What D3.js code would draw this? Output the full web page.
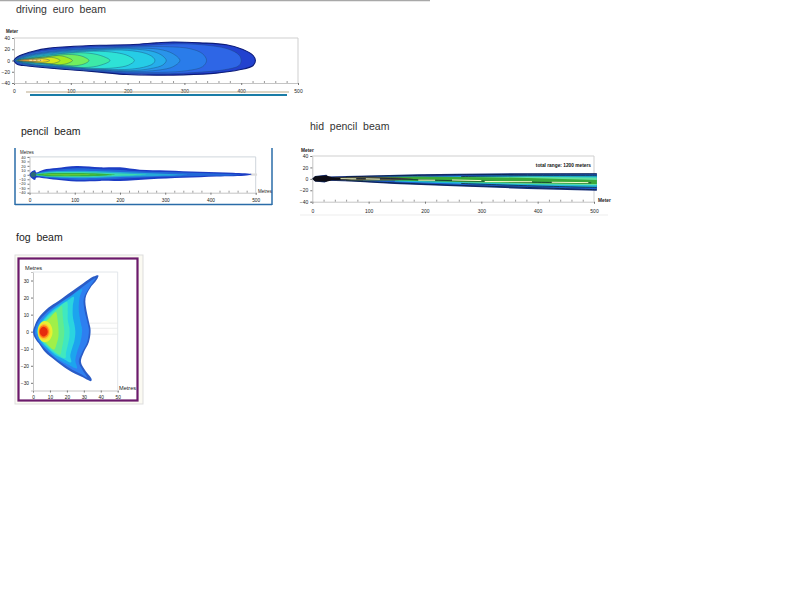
<!DOCTYPE html>
<html><head><meta charset="utf-8">
<script src="https://cdnjs.cloudflare.com/ajax/libs/d3/7.8.5/d3.min.js"></script>
<style>
html,body{margin:0;padding:0;background:#fff}
svg{display:block}
text{font-family:"Liberation Sans",Arial,sans-serif;white-space:pre}
</style></head><body>
<svg id="c" width="800" height="600"></svg>
<script>
const xTicks=[0,100,200,300,400,500];
const xMinor=[20,40,60,80,120,140,160,180,220,240,260,280,320,340,360,380,420,440,460,480];
const yTicksDriving=[40,20,0,-20,-40];
const yTicksPencil=[40,30,20,10,0,-10,-20,-30,-40];
const yTicksHid=[40,20,0,-20,-40];
const fogXTicks=[0,10,20,30,40,50];
const fogYTicks=[30,20,10,0,-10,-20,-30];

const drivingColors=["#2342cf","#2f66e6","#2a7cea","#2a94ea","#25aeea","#28cce6","#2fe2d6","#3eeaa8","#72ee5e","#a4ea22","#d6e81c","#f0d020","#e8a030"];
const drivingBands=[
[[0,0],[3.5,4.7],[10.5,8.9],[34,16.6],[63,22],[93,24.3],[151,27],[210,28.4],[251,31.4],[280,33],[327,31.4],[374,27.9],[403,19.6],[421,8.9],[425,0],[421,-8.9],[397,-16.6],[356,-22.5],[298,-25.5],[251,-26],[198,-24.9],[151,-20.7],[93,-16],[46,-11.9],[16.4,-8.9],[7.6,-7.7],[3,-4.7]],
[[1,0],[12,7.5],[40,15.5],[90,21],[150,24.5],[220,26],[280,29.5],[330,28],[375,21],[396,10],[400,0],[396,-9],[370,-16.5],[330,-20.5],[270,-23.5],[200,-22.5],[150,-19],[90,-14.5],[40,-10],[12,-6.5]],
[[2,0],[14,6.5],[40,13],[90,19],[150,22],[210,24],[270,24.5],[310,21],[332,12],[339,0],[332,-11],[305,-18],[260,-21],[200,-20.5],[150,-17.5],[90,-13],[40,-8.5],[14,-5]],
[[3,0],[15,5.5],[40,11.5],[90,17.5],[150,21],[210,22],[255,20],[280,12],[292,0],[280,-11],[255,-17],[210,-19.5],[150,-16.5],[90,-12],[40,-8],[15,-4.5]],
[[3,0],[16,5],[40,10.5],[90,16],[150,19.5],[205,20.5],[245,16],[262,8],[268,0],[262,-8],[240,-14.5],[205,-18],[150,-15.5],[90,-11],[40,-7.5],[16,-4]],
[[4,0],[18,4.5],[40,9],[90,14.5],[150,18],[200,18],[232,12.5],[245,5.5],[248,0],[245,-5.5],[228,-12],[195,-16],[150,-14.5],[90,-10.5],[40,-7],[18,-3.5]],
[[4,0],[20,4],[45,8],[90,13],[140,16.5],[180,14],[202,8],[212,0],[202,-8],[178,-13],[140,-14],[90,-10],[45,-6],[20,-3.5]],
[[5,0],[22,3.6],[50,7.5],[90,12.5],[125,13.5],[152,9],[169,0],[152,-8.5],[125,-12.5],[90,-9.5],[50,-5.5],[22,-3]],
[[5,0],[25,3.4],[55,6.5],[90,10.5],[112,9.5],[126,5],[132,0],[126,-5],[110,-9],[90,-8.5],[55,-5],[25,-2.8]],
[[6,0],[25,3],[55,6],[80,8.5],[96,4.5],[103,0],[96,-4.5],[80,-7.5],[55,-4.5],[25,-2.5]],
[[6,0],[28,2.6],[50,5],[70,5],[81,0],[70,-5],[50,-4.5],[28,-2.2]],
[[7,0],[30,2.4],[45,3.6],[56,2.6],[63,0],[56,-2.6],[45,-3.4],[30,-2]],
[[7,0],[20,1.6],[35,2],[48,0],[35,-1.8],[20,-1.4]]
];
const drivingCore=[[27,0.4],[50,0.4]];

const pencilColors=["#1c3cc4","#2468d8","#25a8d8","#3bd8b0","#38b040","#70d030","#2a6a78"];
const pencilBands=[
[[0,0],[5,7.5],[12.5,10],[14.7,5.3],[31,11.3],[60,15],[104,19.6],[156,16.6],[200,16.6],[244,11.3],[303,9.8],[377,6.8],[450,4.5],[491,1.5],[480,-1.5],[414,-3.8],[340,-6.8],[266,-9.8],[200,-13.6],[156,-13.6],[104,-15],[60,-11.3],[31,-7.5],[14.7,-6.8],[12.5,-11.3],[5,-7.5]],
[[8,0],[31,8],[60,11.5],[104,14.5],[156,12.5],[200,11],[244,8],[303,6],[377,4],[440,2],[470,0],[440,-2],[377,-2.5],[303,-4.5],[244,-6.5],[200,-9],[156,-10.5],[104,-11.5],[60,-8.5],[31,-5.5]],
[[10,0],[35,6.5],[70,8.5],[110,9],[160,8],[215,5.5],[270,3.5],[320,1.5],[350,0],[320,-1.5],[270,-3],[215,-4.5],[160,-6.5],[110,-7.5],[70,-6.5],[35,-4.5]],
[[12,0],[40,5],[80,6],[120,6],[180,4],[230,2],[260,0],[230,-1.5],[180,-3],[120,-5],[80,-4.8],[40,-3.8]],
[[12,0],[40,3.6],[80,4],[130,3.5],[170,2],[190,0],[170,-1.5],[130,-3],[80,-3.2],[40,-3]],
[[25,0.8],[60,1.4],[110,1.2],[150,0.4],[110,-1],[60,-1.2]],
[[2,0],[4,4],[11,6],[15,0],[11,-5],[4,-4]]
];
const pencilTip=[[488,3],[503,3],[503,-2],[488,-2]];

const hidColors=["#16307c","#1f5ccc","#22b8d8","#60e0a0","#3aa838","#54543c","#101018"];
const hidBands=[
[[0,0],[5,5],[25,7],[28,4],[60,5],[120,6.5],[187,8],[264,8.8],[382,10],[505,10],[505,-21],[382,-17.6],[264,-13.5],[146,-9],[70,-4.7],[28,-3.5],[22,-6.5],[5,-4.7]],
[[90,4],[187,6.5],[382,8.5],[505,8.5],[505,-19],[382,-15.5],[264,-11.5],[146,-7],[90,-4]],
[[150,2],[264,4.5],[382,6],[505,6],[505,-15],[382,-12],[264,-8.5],[146,-4.5]],
[[220,3],[382,3.5],[505,2.5],[505,-11],[382,-9],[264,-6]],
[[60,3],[187,4],[300,3],[382,1.5],[505,-2],[505,-9],[382,-7.5],[264,-5.5],[146,-3],[60,-2.5]],
[[40,3],[100,3.5],[150,2.5],[180,0],[150,-2.5],[100,-2.8],[40,-2.5]],
[[0,0],[5,4.5],[25,6],[35,3],[60,2],[72,0],[60,-2],[35,-2.5],[25,-5],[5,-4.5]]
];
const hidDarkLines=[
[[60,3.5],[187,6],[382,8],[505,8.5]],
[[60,-3],[146,-7],[264,-11.5],[382,-15],[505,-19]],
[[72,0.5],[120,1],[200,-2],[300,-4],[400,-6],[495,-7]],
[[264,4],[382,5.5],[505,5.5]],
[[264,-8],[382,-12],[505,-15]]
];
const hidLightLines=[
[[50,0.3],[78,0]],[[95,0],[120,-0.5]],[[188,-2.2],[218,-2.4]],[[248,-2],[300,-3]],[[306,-4.6],[390,-5]],[[425,-6],[490,-6.6]]
];

const fogColors=["#2a5cc6","#2f7ff0","#1ea4ee","#2cd4e0","#40e8c0","#60ec90","#a0f048","#e8f030","#ffc030","#ff7a18","#e62a10"];
const fogBands=[
[[0,0],[1,3.5],[3,7.8],[9,14],[15,18],[22.8,23.5],[29.7,28.4],[35.6,32.3],[38.6,33],[37.6,30.4],[33.7,25.5],[31,19.6],[31.7,11.8],[33,6],[34,1],[33,-6],[30,-12],[28.3,-17.6],[30.7,-22.5],[34.6,-27.8],[34.3,-29],[28.7,-26.5],[20.9,-22.5],[13,-16.7],[7,-11.8],[3.5,-7],[1.2,-3.9]],
[[1,0],[2,3.5],[4,7],[10,12.8],[16,17],[23,21.5],[29,26],[35,30.5],[37,31.5],[33,25.5],[30,19.5],[30.5,12],[32,6],[33,1],[32,-6],[29,-12],[27,-17.5],[29,-22],[32,-27],[28.5,-25],[21,-21],[13,-15.5],[7.5,-10.5],[4,-6.5],[2,-3.5]],
[[2,0],[3,3.5],[5,6.5],[10,11.8],[16,16.5],[22,20.5],[29,25],[27.5,20],[27,13],[28,6],[29,1],[28,-6],[26,-12],[25,-17],[26,-21.5],[20,-19],[13,-14.8],[8,-10],[4.5,-6.3],[3,-3]],
[[2.5,0],[3.5,3.5],[5.5,6],[10,11],[16,15.5],[20,18],[24,20.5],[23.5,15],[23.5,9],[24.5,4],[25,0],[24.5,-5],[23,-10],[22,-14],[22.5,-18],[18,-16],[13,-13.5],[8.5,-9.5],[5,-5.8],[3.5,-3]],
[[3,0],[4,3.5],[6,5.8],[10,10],[15,14],[20,17.5],[20.5,12],[20.5,7],[21.5,2],[21.5,-3],[20.5,-8],[19.5,-12],[19,-15.5],[13,-12.5],[8.5,-8.8],[5.5,-5.5],[4,-3]],
[[3.5,0],[4.5,3.5],[6.5,5.5],[10,9],[14,12.5],[17,15],[17.5,10],[18,5],[18.5,0],[18,-5],[17,-10],[16,-13.5],[12,-11],[8.5,-8],[5.5,-5],[4.5,-3]],
[[4,0],[5,3.5],[7,5.5],[10,8],[13.5,11.5],[14.5,7],[15,2],[15,-3],[14,-7],[12.5,-10.5],[10,-9],[8,-7],[5.5,-4.5]],
[[2.8,0],[3.8,4],[6.5,6.2],[9.5,5.2],[11.3,2],[11.3,-2],[9.5,-5.2],[6.5,-6.2],[3.8,-4]],
[[3.2,0],[4.1,3.2],[6.4,4.6],[8.8,3.4],[10.2,0],[8.8,-3.4],[6.4,-4.6],[4.1,-3.2]],
[[3.5,0],[4.4,2.7],[6.3,3.7],[8.4,2.7],[9.4,0],[8.4,-2.7],[6.3,-3.7],[4.4,-2.7]],
[[4,0],[4.7,2],[6.2,2.9],[7.9,2],[8.7,0],[7.9,-2],[6.2,-2.9],[4.7,-2]]
];
const fogFaintY=[5,2,-1.5];

const svg=d3.select("#c");
const defs=svg.append("defs");
defs.append("filter").attr("id","soft").attr("x","-5%").attr("y","-20%").attr("width","110%").attr("height","140%")
  .append("feGaussianBlur").attr("stdDeviation",0.55);

const closed=(x,y)=>d3.line().x(d=>x(d[0])).y(d=>y(d[1])).curve(d3.curveCatmullRomClosed.alpha(0.5));
const open=(x,y)=>d3.line().x(d=>x(d[0])).y(d=>y(d[1])).curve(d3.curveCatmullRom.alpha(0.5));
const straight=(x,y)=>d3.line().x(d=>x(d[0])).y(d=>y(d[1])).curve(d3.curveLinearClosed);

function rule(x1,y1,x2,y2,c,w){svg.append("line").attr("x1",x1).attr("y1",y1).attr("x2",x2).attr("y2",y2).attr("stroke",c).attr("stroke-width",w);}
function label(t,x,y,size,opt={}){return svg.append("text").attr("x",x).attr("y",y).attr("font-size",size).attr("fill",opt.fill||"#222").attr("text-anchor",opt.anchor||"start").attr("font-weight",opt.weight||"normal").text(t);}

function frame(x,y,yTicks,xT,xMin,size,bottomY,frameColor,pad,ySize){
  const gx=svg.append("g").attr("transform",`translate(0,${bottomY})`)
    .call(d3.axisBottom(x).tickValues(xT).tickSize(2).tickPadding(pad));
  gx.select(".domain").attr("stroke","#c4c4c4").attr("stroke-width",1);
  gx.selectAll("line").attr("stroke","#777");
  gx.selectAll("text").attr("font-size",size).attr("fill","#222").attr("font-family",'"Liberation Sans",sans-serif');
  const gm=svg.append("g").attr("transform",`translate(0,${bottomY})`)
    .call(d3.axisBottom(x).tickValues(xMin).tickSize(-2).tickFormat(""));
  gm.select(".domain").remove(); gm.selectAll("line").attr("stroke","#999");
  const gy=svg.append("g").attr("transform",`translate(${x.range()[0]},0)`)
    .call(d3.axisLeft(y).tickValues(yTicks).tickSize(2).tickPadding(2));
  gy.select(".domain").attr("stroke","#c4c4c4");
  gy.selectAll("line").attr("stroke","#777");
  gy.selectAll("text").attr("font-size",ySize||size).attr("fill","#222").attr("font-family",'"Liberation Sans",sans-serif');
  const yr=y.range();
  rule(x.range()[0],yr[1],x.range()[1],yr[1],frameColor,1);
  rule(x.range()[1],yr[0],x.range()[1],yr[1],frameColor,1);
}

rule(0,0.5,430,0.5,"#a8a8a8",1.5);

label("driving  euro  beam",16,13,10.5,{fill:"#333"});
label("pencil  beam",21,135,10.5,{fill:"#222"});
label("hid  pencil  beam",310,130,10.5,{fill:"#333"});
label("fog  beam",16,241,10.5,{fill:"#222"});

{
  const x=d3.scaleLinear().domain([0,500]).range([14,298]);
  const y=d3.scaleLinear().domain([-40,40]).range([83,38]);
  frame(x,y,yTicksDriving,xTicks,xMinor,5,83,"#cfcfcf",4);
  label("Meter",6,32.5,4.5,{weight:"bold"});
  const g=svg.append("g").attr("filter","url(#soft)");
  const p=closed(x,y);
  g.selectAll("path").data(drivingBands).join("path").attr("d",p)
    .attr("fill",(d,i)=>drivingColors[i])
    .attr("stroke",(d,i)=>i===0?"#0c1c78":"#1b4a70")
    .attr("stroke-width",(d,i)=>i===0?1.1:0.4);
  g.append("path").attr("d",open(x,y)(drivingCore)).attr("stroke","#f8f0b0").attr("stroke-width",0.9).attr("stroke-dasharray","3 1").attr("fill","none");
  rule(26,92,289,92,"#b9a98a",1);
  rule(30,95,287,95,"#1a7ca6",2);
}

{
  rule(15,148,15,205,"#2a6ca8",1.5);
  rule(15,204.5,272,204.5,"#2a6ca8",1.5);
  rule(272,148,272,205,"#2a6ca8",1.5);
  const x=d3.scaleLinear().domain([0,500]).range([29.5,255.7]);
  const y=d3.scaleLinear().domain([-40,40]).range([192.7,156.9]);
  frame(x,y,yTicksPencil,xTicks,xMinor,4.8,192.7,"#cfd6dc",4,3.8);
  label("Metres",20,153.5,4.5);
  label("Metres",258,193,4.5);
  const g=svg.append("g").attr("filter","url(#soft)");
  g.append("path").attr("d",straight(x,y)(pencilTip)).attr("fill","#dcdcdc");
  g.selectAll("path.b").data(pencilBands).join("path").attr("class","b").attr("d",closed(x,y))
    .attr("fill",(d,i)=>pencilColors[i]);
}

{
  const x=d3.scaleLinear().domain([0,500]).range([312.3,594]);
  const y=d3.scaleLinear().domain([-40,40]).range([201.7,156]);
  frame(x,y,yTicksHid,xTicks,xMinor,5,201.7,"#cfcfcf",6);
  label("Meter",301,151.5,4.8,{weight:"bold"});
  label("Meter",598,202,4.8,{weight:"bold"});
  label("total range: 1200 meters",591,167,4.8,{anchor:"end",weight:"bold",fill:"#111"});
  const g=svg.append("g").attr("filter","url(#soft)");
  g.selectAll("path.b").data(hidBands).join("path").attr("class","b").attr("d",straight(x,y))
    .attr("fill",(d,i)=>hidColors[i]);
  const l=open(x,y);
  g.selectAll("path.d").data(hidDarkLines).join("path").attr("class","d").attr("d",l).attr("fill","none").attr("stroke","#0c1a30").attr("stroke-width",0.7);
  g.selectAll("path.w").data(hidLightLines).join("path").attr("class","w").attr("d",l).attr("fill","none").attr("stroke","#f4ffc8").attr("stroke-width",1);
  rule(300,215,608,215,"#ededed",1);
}

{
  svg.append("rect").attr("x",15).attr("y",255).attr("width",128).attr("height",149).attr("fill","#fbfaf2").attr("stroke","#ddd").attr("stroke-width",1);
  svg.append("rect").attr("x",18.5).attr("y",258.5).attr("width",119).attr("height",142).attr("fill","#fff").attr("stroke","#6b1a6b").attr("stroke-width",2.2);
  const x=d3.scaleLinear().domain([0,50]).range([33,117.7]);
  const y=d3.scaleLinear().domain([-34.5,35]).range([390.5,272]);
  frame(x,y,fogYTicks,fogXTicks,[],4.8,390.5,"#e2e6ea",3);
  fogFaintY.forEach(v=>rule(x(20),y(v),x(50),y(v),"#dfe3e3",0.7));
  label("Metres",25,270,5.6);
  label("Metres",119,390,5.6);
  const g=svg.append("g").attr("filter","url(#soft)");
  g.selectAll("path").data(fogBands).join("path").attr("d",closed(x,y))
    .attr("fill",(d,i)=>fogColors[i]);
}
</script>
</body></html>
